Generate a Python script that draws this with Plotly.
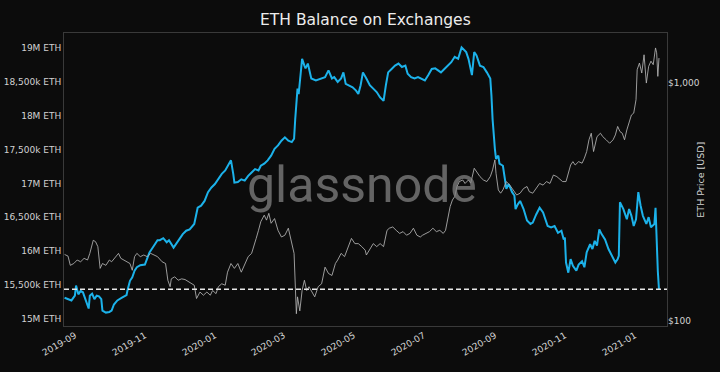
import plotly.graph_objects as go

# ---------------- data ----------------
balance_dates = [
    "2019-08-23", "2019-08-27", "2019-08-29", "2019-09-01", "2019-09-02", "2019-09-04", "2019-09-06", "2019-09-08", "2019-09-10", "2019-09-12",
    "2019-09-13", "2019-09-14", "2019-09-16", "2019-09-18", "2019-09-20", "2019-09-22", "2019-09-24", "2019-09-25", "2019-09-28", "2019-10-01",
    "2019-10-03", "2019-10-05", "2019-10-08", "2019-10-12", "2019-10-16", "2019-10-17", "2019-10-19", "2019-10-21", "2019-10-23", "2019-10-25",
    "2019-10-28", "2019-11-01", "2019-11-03", "2019-11-05", "2019-11-07", "2019-11-10", "2019-11-12", "2019-11-14", "2019-11-17",
    "2019-11-20", "2019-11-22", "2019-11-26", "2019-11-28", "2019-12-01", "2019-12-04", "2019-12-07", "2019-12-10", "2019-12-14", "2019-12-16",
    "2019-12-17", "2019-12-20", "2019-12-23", "2019-12-26", "2019-12-29", "2020-01-01", "2020-01-04", "2020-01-07", "2020-01-10", "2020-01-12",
    "2020-01-15", "2020-01-17", "2020-01-18", "2020-01-21", "2020-01-24", "2020-01-27", "2020-01-30", "2020-02-02", "2020-02-05", "2020-02-08",
    "2020-02-10", "2020-02-13",
    "2020-02-16", "2020-02-19", "2020-02-22", "2020-02-25", "2020-02-28", "2020-03-02", "2020-03-05", "2020-03-08", "2020-03-10", "2020-03-11",
    "2020-03-12", "2020-03-13", "2020-03-14", "2020-03-16", "2020-03-17", "2020-03-19", "2020-03-20", "2020-03-22", "2020-03-25", "2020-03-29",
    "2020-04-03", "2020-04-06", "2020-04-09", "2020-04-12", "2020-04-14", "2020-04-17", "2020-04-20", "2020-04-22", "2020-04-24", "2020-04-27",
    "2020-04-30", "2020-05-03", "2020-05-05", "2020-05-07", "2020-05-09",
    "2020-05-12", "2020-05-15", "2020-05-18", "2020-05-21", "2020-05-24", "2020-05-27", "2020-05-29", "2020-05-31", "2020-06-03", "2020-06-06",
    "2020-06-09", "2020-06-12", "2020-06-15", "2020-06-17", "2020-06-20", "2020-06-23", "2020-06-26", "2020-06-29", "2020-07-02", "2020-07-05",
    "2020-07-08", "2020-07-11", "2020-07-14", "2020-07-16", "2020-07-19", "2020-07-22", "2020-07-25", "2020-07-28", "2020-07-31", "2020-08-03",
    "2020-08-07", "2020-08-09", "2020-08-12", "2020-08-14", "2020-08-16", "2020-08-19", "2020-08-22", "2020-08-25", "2020-08-28", "2020-08-29",
    "2020-08-30", "2020-09-01", "2020-09-02", "2020-09-04", "2020-09-05", "2020-09-08", "2020-09-10", "2020-09-11", "2020-09-13", "2020-09-16",
    "2020-09-18", "2020-09-19", "2020-09-21", "2020-09-23", "2020-09-26", "2020-09-29", "2020-10-02", "2020-10-04", "2020-10-07", "2020-10-10",
    "2020-10-13", "2020-10-15", "2020-10-17", "2020-10-20", "2020-10-23", "2020-10-26", "2020-10-29", "2020-10-31",
    "2020-11-01", "2020-11-02", "2020-11-04", "2020-11-06", "2020-11-08", "2020-11-11", "2020-11-13", "2020-11-16", "2020-11-18", "2020-11-20",
    "2020-11-23", "2020-11-25", "2020-11-27", "2020-11-29", "2020-12-01", "2020-12-03", "2020-12-06", "2020-12-09", "2020-12-12", "2020-12-15",
    "2020-12-17", "2020-12-18", "2020-12-19", "2020-12-22", "2020-12-25", "2020-12-27", "2020-12-29", "2020-12-31", "2021-01-02", "2021-01-04",
    "2021-01-06", "2021-01-08", "2021-01-11", "2021-01-13", "2021-01-15", "2021-01-18", "2021-01-19", "2021-01-20", "2021-01-21", "2021-01-22",
]
# ETH held on exchanges, millions of ETH
balance_millions = [
    15.31, 15.29, 15.27, 15.34, 15.49, 15.36, 15.41, 15.39, 15.29, 15.19,
    15.15, 15.34, 15.37, 15.29, 15.34, 15.33, 15.29, 15.12, 15.09, 15.10,
    15.12, 15.21, 15.27, 15.31, 15.35, 15.43, 15.56, 15.61, 15.71, 15.76,
    15.79, 15.80, 15.88, 15.98, 16.03, 16.10, 16.16, 16.16, 16.19,
    16.13, 16.16, 16.05, 16.10, 16.17, 16.25, 16.30, 16.32, 16.40, 16.54,
    16.64, 16.67, 16.74, 16.87, 16.94, 16.99, 17.06, 17.14, 17.19, 17.26,
    17.34, 17.14, 17.01, 17.02, 17.06, 17.04, 17.11, 17.16, 17.21, 17.19,
    17.26, 17.29,
    17.34, 17.41, 17.51, 17.56, 17.63, 17.68, 17.63, 17.61, 17.66, 17.95,
    18.20, 18.40, 18.32, 18.62, 18.84, 18.74, 18.70, 18.77, 18.55, 18.52,
    18.55, 18.57, 18.67, 18.55, 18.57, 18.50, 18.55, 18.64, 18.47, 18.45,
    18.42, 18.37, 18.32, 18.45, 18.64,
    18.55, 18.45, 18.40, 18.35, 18.27, 18.22, 18.45, 18.64, 18.69, 18.74,
    18.77, 18.72, 18.74, 18.62, 18.57, 18.55, 18.57, 18.55, 18.52, 18.60,
    18.69, 18.70, 18.67, 18.64, 18.69, 18.74, 18.79, 18.87, 18.84, 19.01,
    18.94, 18.84, 18.60, 18.94, 18.89, 18.74, 18.72, 18.64, 18.55, 18.30,
    17.95, 17.51, 17.36, 17.41, 17.29, 17.26, 17.06, 16.92, 16.99, 16.87,
    16.82, 16.62, 16.69, 16.74, 16.62, 16.45, 16.40, 16.42, 16.54, 16.64,
    16.57, 16.45, 16.37, 16.35, 16.37, 16.27, 16.30, 16.17,
    16.20, 15.83, 15.68, 15.88, 15.78, 15.71, 15.80, 15.85, 15.76, 15.98,
    16.10, 16.03, 16.15, 16.08, 16.32, 16.25, 16.17, 16.03, 15.93, 15.83,
    15.88, 15.93, 16.72, 16.62, 16.47, 16.62, 16.52, 16.37, 16.47, 16.87,
    16.67, 16.52, 16.40, 16.50, 16.35, 16.40, 16.64, 16.10, 15.70, 15.436,
]

price_dates = [
    "2019-08-23", "2019-08-26", "2019-08-28", "2019-08-31", "2019-09-03", "2019-09-06", "2019-09-09", "2019-09-12", "2019-09-14", "2019-09-17",
    "2019-09-19", "2019-09-21", "2019-09-23", "2019-09-25", "2019-09-28", "2019-10-01", "2019-10-03", "2019-10-06", "2019-10-09", "2019-10-11",
    "2019-10-14", "2019-10-16", "2019-10-19", "2019-10-21", "2019-10-23", "2019-10-25", "2019-10-28", "2019-10-31", "2019-11-03", "2019-11-06",
    "2019-11-09", "2019-11-12", "2019-11-16",
    "2019-11-19", "2019-11-21", "2019-11-23", "2019-11-24", "2019-11-27", "2019-11-30", "2019-12-03", "2019-12-06", "2019-12-09", "2019-12-11",
    "2019-12-14", "2019-12-16", "2019-12-19", "2019-12-22", "2019-12-25", "2019-12-28", "2019-12-30", "2020-01-02", "2020-01-04", "2020-01-07",
    "2020-01-10", "2020-01-12", "2020-01-15", "2020-01-18", "2020-01-21", "2020-01-24", "2020-01-27", "2020-01-30", "2020-02-02", "2020-02-04",
    "2020-02-06", "2020-02-08", "2020-02-10", "2020-02-13",
    "2020-02-15", "2020-02-17", "2020-02-19", "2020-02-22", "2020-02-25", "2020-02-28", "2020-03-02", "2020-03-05", "2020-03-08", "2020-03-10",
    "2020-03-12", "2020-03-13", "2020-03-15", "2020-03-17", "2020-03-19", "2020-03-21", "2020-03-23", "2020-03-26", "2020-03-28", "2020-03-31",
    "2020-04-03", "2020-04-06", "2020-04-09", "2020-04-12", "2020-04-15", "2020-04-17", "2020-04-20", "2020-04-23", "2020-04-26", "2020-04-29",
    "2020-05-02", "2020-05-05", "2020-05-08", "2020-05-11",
    "2020-05-12", "2020-05-15", "2020-05-18", "2020-05-21", "2020-05-24", "2020-05-27", "2020-05-30", "2020-06-01", "2020-06-04", "2020-06-07",
    "2020-06-10", "2020-06-13", "2020-06-16", "2020-06-19", "2020-06-22", "2020-06-25", "2020-06-28", "2020-06-30", "2020-07-03", "2020-07-06",
    "2020-07-09", "2020-07-12", "2020-07-15", "2020-07-18", "2020-07-20", "2020-07-22", "2020-07-24", "2020-07-26", "2020-07-28", "2020-07-30",
    "2020-08-01", "2020-08-04", "2020-08-06", "2020-08-09", "2020-08-11",
    "2020-08-14", "2020-08-16", "2020-08-19", "2020-08-22", "2020-08-25", "2020-08-28", "2020-08-30", "2020-09-01", "2020-09-02", "2020-09-04",
    "2020-09-06", "2020-09-08", "2020-09-11", "2020-09-14", "2020-09-17", "2020-09-20", "2020-09-23", "2020-09-26", "2020-09-29", "2020-10-01",
    "2020-10-04", "2020-10-07", "2020-10-10", "2020-10-13", "2020-10-16", "2020-10-19", "2020-10-22", "2020-10-25", "2020-10-28", "2020-10-30",
    "2020-11-02", "2020-11-04", "2020-11-06", "2020-11-08", "2020-11-10", "2020-11-13", "2020-11-16", "2020-11-18", "2020-11-20", "2020-11-22",
    "2020-11-24", "2020-11-26", "2020-11-29", "2020-12-02", "2020-12-04", "2020-12-07", "2020-12-10", "2020-12-13", "2020-12-15", "2020-12-17",
    "2020-12-19", "2020-12-21", "2020-12-23", "2020-12-25", "2020-12-27", "2020-12-29", "2020-12-31", "2021-01-02", "2021-01-03", "2021-01-05",
    "2021-01-07", "2021-01-09", "2021-01-11", "2021-01-13", "2021-01-15", "2021-01-17", "2021-01-19", "2021-01-20", "2021-01-21", "2021-01-22",
]
# ETH price, USD
price_usd = [
    190, 187, 171, 174, 180, 177, 183, 180, 192, 218,
    215, 205, 166, 174, 171, 180, 177, 184, 192, 183,
    180, 177, 174, 163, 186, 192, 186, 189, 186, 192,
    189, 186, 177,
    174, 148, 139, 150, 153, 148, 150, 149, 146, 143,
    141, 124, 132, 128, 132, 128, 134, 130, 139, 143,
    141, 160, 174, 166, 174, 160, 174, 186, 192, 205,
    222, 240, 261, 278,
    265, 283, 257, 269, 240, 225, 229, 245, 211, 192,
    107, 126, 110, 134, 148, 134, 139, 132, 126, 139,
    143, 168, 158, 155, 174, 180, 192, 186, 205, 222,
    211, 211, 205, 198,
    189, 201, 211, 205, 211, 205, 240, 245, 248, 240,
    233, 237, 229, 233, 245, 229, 225, 229, 233, 237,
    245, 237, 240, 233, 240, 265, 302, 322, 333, 367,
    385, 391, 378, 391, 380,
    438, 424, 404, 391, 385, 404, 431, 475, 417, 355,
    344, 355, 385, 372, 355, 338, 344, 360, 367, 349,
    344, 360, 378, 372, 385, 378, 410, 404, 391, 385,
    385, 417, 452, 467, 452, 467, 460, 483, 515, 577,
    615, 515, 595, 615, 595, 577, 558, 577, 605, 657,
    625, 615, 577, 635, 689, 734, 747, 851, 1138, 1214,
    1102, 1315, 1000, 1175, 1236, 1195, 1405, 1340, 1067, 1274,
]

balance_ticks = [15, 15.5, 16, 16.5, 17, 17.5, 18, 18.5, 19]
balance_tick_labels = ["15M ETH", "15,500k ETH", "16M ETH", "16,500k ETH", "17M ETH",
                       "17,500k ETH", "18M ETH", "18,500k ETH", "19M ETH"]
price_ticks = [100, 1000]
price_tick_labels = ["$100", "$1,000"]

# ---------------- figure ----------------
BG = "#0c0c0c"
TXT = "#d2d2d2"

fig = go.Figure()
fig.add_trace(go.Scatter(
    x=balance_dates, y=balance_millions, mode="lines",
    line=dict(color="#1cb2ea", width=2), yaxis="y", showlegend=False,
))
fig.add_trace(go.Scatter(
    x=price_dates, y=price_usd, mode="lines",
    line=dict(color="rgba(180,180,180,0.85)", width=1), yaxis="y2", showlegend=False,
))

fig.add_shape(type="line", xref="paper", x0=0, x1=1, yref="y",
              y0=balance_millions[-1], y1=balance_millions[-1],
              line=dict(color="#e8e8e8", width=1.5, dash="5px,3px"))

fig.add_annotation(text="glassnode", xref="paper", yref="paper", x=0.494, y=0.48,
                   showarrow=False, font=dict(family="Roboto", size=50, color="rgba(130,130,130,0.75)"))

fig.add_annotation(text="ETH Price [USD]", xref="paper", yref="paper", x=1.055, y=0.5,
                   xanchor="center", yanchor="middle", textangle=-90, showarrow=False,
                   font=dict(family="DejaVu Sans", size=9.5, color=TXT))

fig.update_layout(
    width=720, height=372,
    margin=dict(l=64, r=53, t=33, b=46, autoexpand=False),
    paper_bgcolor=BG, plot_bgcolor=BG,
    font=dict(family="DejaVu Sans", color=TXT, size=9),
    title=dict(text="ETH Balance on Exchanges", x=0.5075, xanchor="center", y=0.948, yanchor="middle",
               font=dict(family="DejaVu Sans", size=15.5, color="#ececec")),
    xaxis=dict(
        type="date", range=["2019-08-22 12:00", "2021-01-29"],
        tickformat="%Y-%m", dtick="M2", tick0="2019-09-01", tickangle=-30,
        showgrid=False, zeroline=False, showline=True, mirror=True, automargin=False,
        linecolor="#3a3a3a", linewidth=1, ticks="", tickfont=dict(size=9, color=TXT),
    ),
    yaxis=dict(
        range=[14.892, 19.222], tickvals=balance_ticks, ticktext=balance_tick_labels,
        showgrid=False, zeroline=False, showline=True, mirror=True, automargin=False,
        linecolor="#3a3a3a", linewidth=1, ticks="", tickfont=dict(size=9, color=TXT),
    ),
    yaxis2=dict(
        type="log", range=[1.9777, 3.2106], overlaying="y", side="right",
        tickvals=price_ticks, ticktext=price_tick_labels, automargin=False,
        showgrid=False, zeroline=False, showline=False, ticks="",
        tickfont=dict(size=9, color=TXT),
    ),
)

fig.write_html(
    "out.html",
    config={"displayModeBar": False},
    post_script="document.body.style.margin='0';document.body.style.background='#0c0c0c';",
)
